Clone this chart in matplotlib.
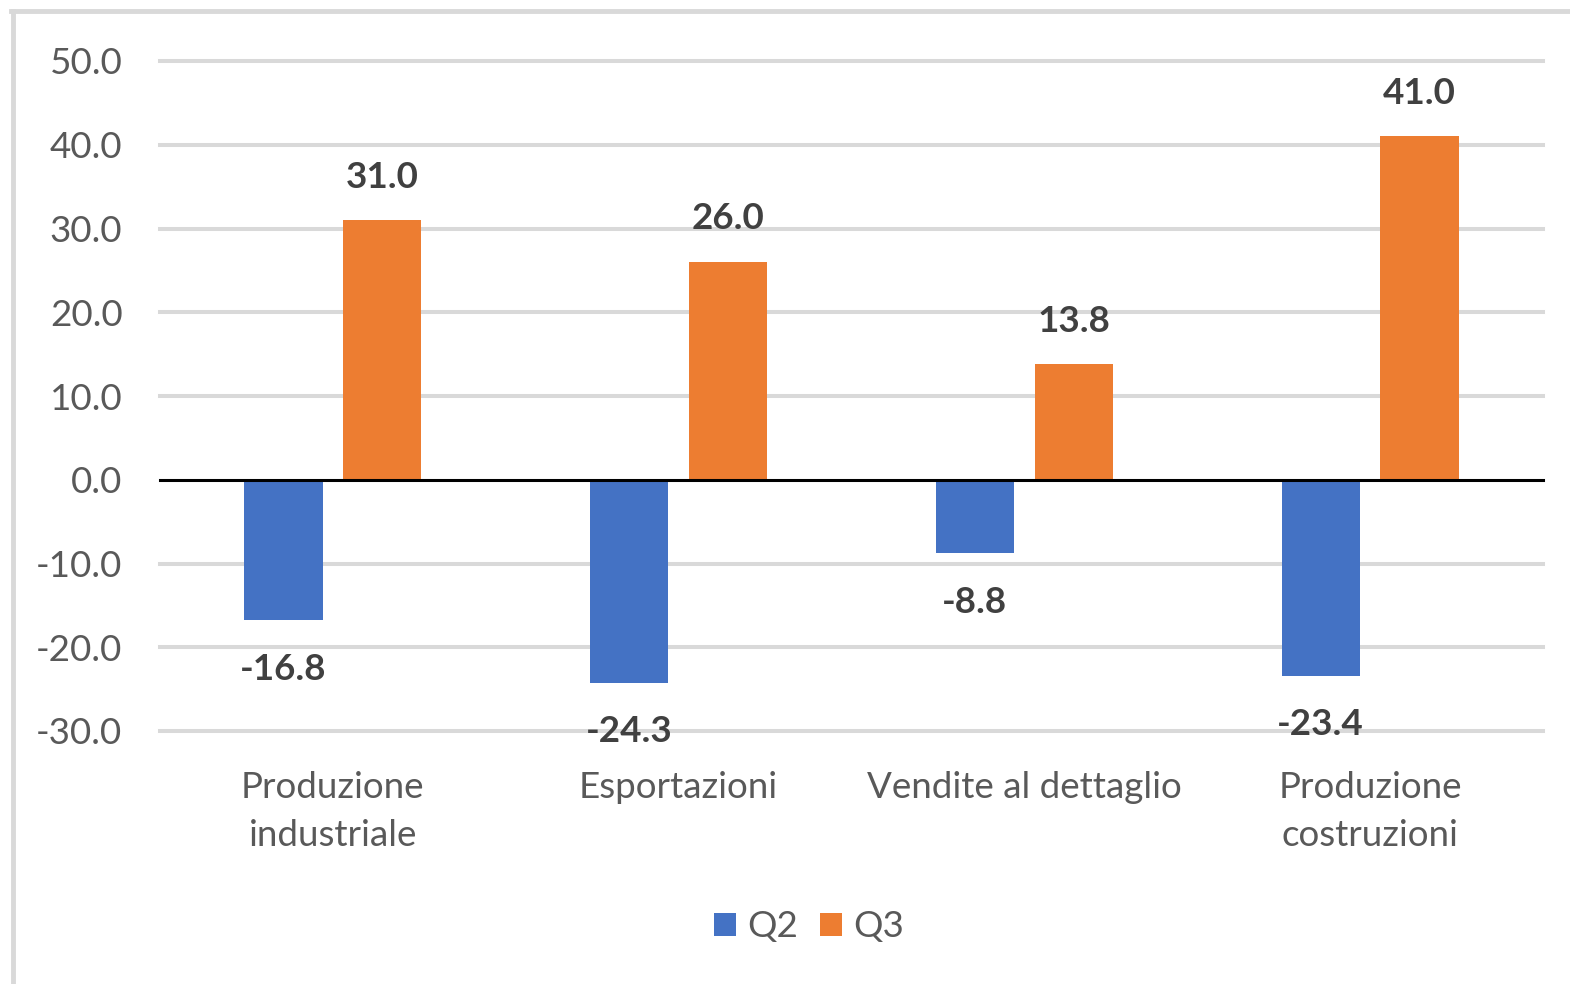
import matplotlib.pyplot as plt
import numpy as np
from matplotlib.lines import Line2D

# data
categories = ["Produzione\nindustriale", "Esportazioni", "Vendite al dettaglio", "Produzione\ncostruzioni"]
q2_values = [-16.8, -24.3, -8.8, -23.4]
q3_values = [31.0, 26.0, 13.8, 41.0]
y_ticks = [-30, -20, -10, 0, 10, 20, 30, 40, 50]

BLUE = "#4472C4"
ORANGE = "#ED7D31"
GRID = "#D9D9D9"

plt.rcParams['font.family'] = ['Lato', 'DejaVu Sans']

fig = plt.figure(figsize=(15.7, 9.84), dpi=100)
ax = fig.add_axes([160 / 1570, (984 - 731) / 984, 1383 / 1570, 670 / 984])

x = np.arange(len(categories))
width = 0.226
offset = 0.143

b2 = ax.bar(x - offset, q2_values, width, color=BLUE, label="Q2", zorder=2)
b3 = ax.bar(x + offset, q3_values, width, color=ORANGE, label="Q3", zorder=2)

# data labels: above positive bars, below negative ones
for bars in (b2, b3):
    for rect in bars:
        v = rect.get_height()
        cx = rect.get_x() + rect.get_width() / 2
        dy = 31 if v >= 0 else -35
        ax.annotate(f"{v:.1f}", (cx, v), xytext=(0, dy), textcoords="offset points",
                    ha="center", va="center", fontsize=26.5, fontweight="bold",
                    color="#404040", zorder=4)

ax.set_xlim(-0.5, len(categories) - 0.5)
ax.set_ylim(-30, 50)
ax.set_yticks(y_ticks)
ax.set_yticklabels([f"{t:.1f}" for t in y_ticks])
ax.set_xticks(x)
ax.set_xticklabels(categories, linespacing=1.55)

for t in y_ticks:
    if t != 0:
        ax.axhline(t, color=GRID, lw=2.9, zorder=1, clip_on=False)
ax.axhline(0, color="black", lw=2.2, zorder=3, clip_on=False)

for s in ax.spines.values():
    s.set_visible(False)
ax.tick_params(axis="both", length=0, labelsize=26.5, colors="#595959")
ax.tick_params(axis="y", pad=27)
ax.tick_params(axis="x", pad=29)

# legend below the plot
fig.legend(handles=[b2, b3], labels=["Q2", "Q3"], loc="center", bbox_to_anchor=(809 / 1570, 1 - 927 / 984),
           ncol=2, frameon=False, fontsize=26.5, labelcolor="#595959", handlelength=0.6, handleheight=0.6,
           handletextpad=0.3, columnspacing=0.6)

# light border around the chart area
fig.add_artist(Line2D([12.5 / 1570, 12.5 / 1570], [0, 1 - 11 / 984], transform=fig.transFigure,
                      color=GRID, lw=3.5))
fig.add_artist(Line2D([11 / 1570, 1], [1 - 11 / 984, 1 - 11 / 984], transform=fig.transFigure,
                      color=GRID, lw=3.5))

fig.savefig("out.png", dpi=100, facecolor="white")
